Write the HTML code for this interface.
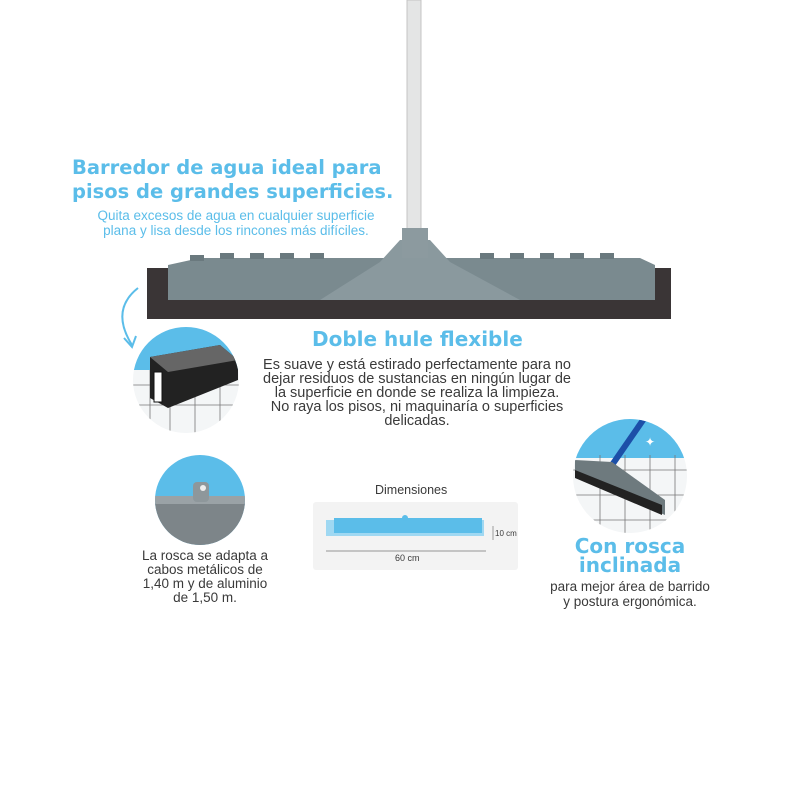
<!DOCTYPE html>
<html><head><style>
body{margin:0;width:800px;height:800px;background:#fff;position:relative;overflow:hidden;font-family:"Liberation Sans",sans-serif}
.t{position:absolute;white-space:nowrap}
.b{color:#5bbde9;font-weight:bold;font-family:"DejaVu Sans","Liberation Sans",sans-serif}
.g{color:#3a3a3a}
.c{text-align:center}
</style></head><body>
<svg width="800" height="800" style="position:absolute;left:0;top:0">
<defs>
<clipPath id="c1"><circle cx="186" cy="380" r="53"/></clipPath>
<clipPath id="c2"><circle cx="200" cy="500" r="45"/></clipPath>
<clipPath id="c3"><circle cx="630" cy="476" r="57"/></clipPath>
</defs>
<rect x="407" y="0" width="14" height="235" fill="#e4e5e5" stroke="#c4c4c4"/>
<rect x="147" y="268" width="524" height="51" fill="#3a3536"/>
<polygon points="168,265 200,258 640,258 655,265 655,300 168,300" fill="#7a8a8f"/>
<polygon points="320,300 380,262 400,240 430,240 450,262 520,300" fill="#8a999e"/>
<rect x="402" y="228" width="26" height="30" fill="#8c9a9f"/>
<g fill="#6a797e">
<rect x="190" y="255" width="14" height="6"/><rect x="220" y="253" width="14" height="6"/><rect x="250" y="253" width="14" height="6"/><rect x="280" y="253" width="14" height="6"/><rect x="310" y="253" width="14" height="6"/>
<rect x="480" y="253" width="14" height="6"/><rect x="510" y="253" width="14" height="6"/><rect x="540" y="253" width="14" height="6"/><rect x="570" y="253" width="14" height="6"/><rect x="600" y="253" width="14" height="6"/>
</g>
<path d="M138,288 Q110,310 132,345" fill="none" stroke="#5bbde9" stroke-width="2"/>
<path d="M124,338 L132,347 L136,336" fill="none" stroke="#5bbde9" stroke-width="2"/>
<g clip-path="url(#c1)">
<rect x="130" y="325" width="112" height="110" fill="#f4f6f7"/>
<rect x="130" y="325" width="112" height="45" fill="#5bbde9"/>
<g stroke="#777" stroke-width="0.8"><line x1="130" y1="385" x2="242" y2="385"/><line x1="130" y1="405" x2="242" y2="405"/><line x1="150" y1="370" x2="150" y2="435"/><line x1="170" y1="370" x2="170" y2="435"/><line x1="195" y1="370" x2="195" y2="435"/><line x1="220" y1="370" x2="220" y2="435"/></g>
<polygon points="150,357 220,345 238,360 238,380 168,408 150,398" fill="#222"/>
<polygon points="150,357 220,345 238,360 168,372" fill="#666"/>
<rect x="154" y="372" width="8" height="30" fill="#fff" stroke="#111"/>
</g>
<g clip-path="url(#c2)">
<rect x="150" y="450" width="100" height="100" fill="#5bbde9"/>
<rect x="150" y="503" width="100" height="50" fill="#7d8589"/>
<rect x="150" y="496" width="100" height="8" fill="#9aa2a6"/>
<rect x="193" y="482" width="16" height="20" fill="#8e979b" rx="4"/>
<circle cx="203" cy="488" r="3" fill="#eee"/>
</g>
<rect x="313" y="502" width="205" height="68" rx="3" fill="#f3f3f3"/>
<rect x="326" y="520" width="158" height="16" fill="#9fd8f2"/>
<rect x="334" y="518" width="148" height="15" fill="#5bbde9"/>
<circle cx="405" cy="518" r="3" fill="#5bbde9"/>
<line x1="326" y1="551" x2="486" y2="551" stroke="#777" stroke-width="0.7"/>
<line x1="493" y1="526" x2="493" y2="540" stroke="#777" stroke-width="0.7"/>
<g clip-path="url(#c3)">
<rect x="570" y="418" width="120" height="118" fill="#f4f6f7"/>
<rect x="570" y="418" width="120" height="40" fill="#5bbde9"/>
<g stroke="#777" stroke-width="0.8"><line x1="570" y1="470" x2="690" y2="470"/><line x1="570" y1="495" x2="690" y2="495"/><line x1="570" y1="520" x2="690" y2="520"/><line x1="600" y1="455" x2="600" y2="536"/><line x1="625" y1="455" x2="625" y2="536"/><line x1="650" y1="455" x2="650" y2="536"/><line x1="675" y1="455" x2="675" y2="536"/></g>
<line x1="612" y1="465" x2="650" y2="410" stroke="#1c4fa8" stroke-width="6"/>
<polygon points="575,460 612,462 665,500 665,515 575,475" fill="#6e7a7e"/>
<polygon points="575,470 662,505 662,515 575,478" fill="#222"/>
<text x="645" y="446" fill="#fff" font-size="12">✦</text>
</g>
</svg>
<div class="t b" style="left:72px;top:156px;font-size:19.5px;line-height:24px">Barredor de agua ideal para<br>pisos de grandes superficies.</div>
<div class="t c" style="left:66px;top:208px;width:340px;font-size:13.5px;line-height:15px;color:#5bbde9">Quita excesos de agua en cualquier superficie<br>plana y lisa desde los rincones más difíciles.</div>
<div class="t b" style="left:312px;top:327px;font-size:20px">Doble hule flexible</div>
<div class="t g c" style="left:237px;top:358px;width:360px;font-size:14.5px;line-height:14px">Es suave y está estirado perfectamente para no<br>dejar residuos de sustancias en ningún lugar de<br>la superficie en donde se realiza la limpieza.<br>No raya los pisos, ni maquinaría o superficies<br>delicadas.</div>
<div class="t g c" style="left:124px;top:549px;width:162px;font-size:13.5px;line-height:14px">La rosca se adapta a<br>cabos metálicos de<br>1,40 m y de aluminio<br>de 1,50 m.</div>
<div class="t g" style="left:375px;top:483px;font-size:12.5px">Dimensiones</div>
<div class="t g" style="left:395px;top:553px;font-size:9px">60 cm</div>
<div class="t g" style="left:495px;top:529px;font-size:8px">10 cm</div>
<div class="t b c" style="left:540px;top:537px;width:180px;font-size:20px;line-height:19px">Con rosca<br>inclinada</div>
<div class="t g c" style="left:530px;top:579px;width:200px;font-size:13.5px;line-height:15px">para mejor área de barrido<br>y postura ergonómica.</div>
</body></html>
